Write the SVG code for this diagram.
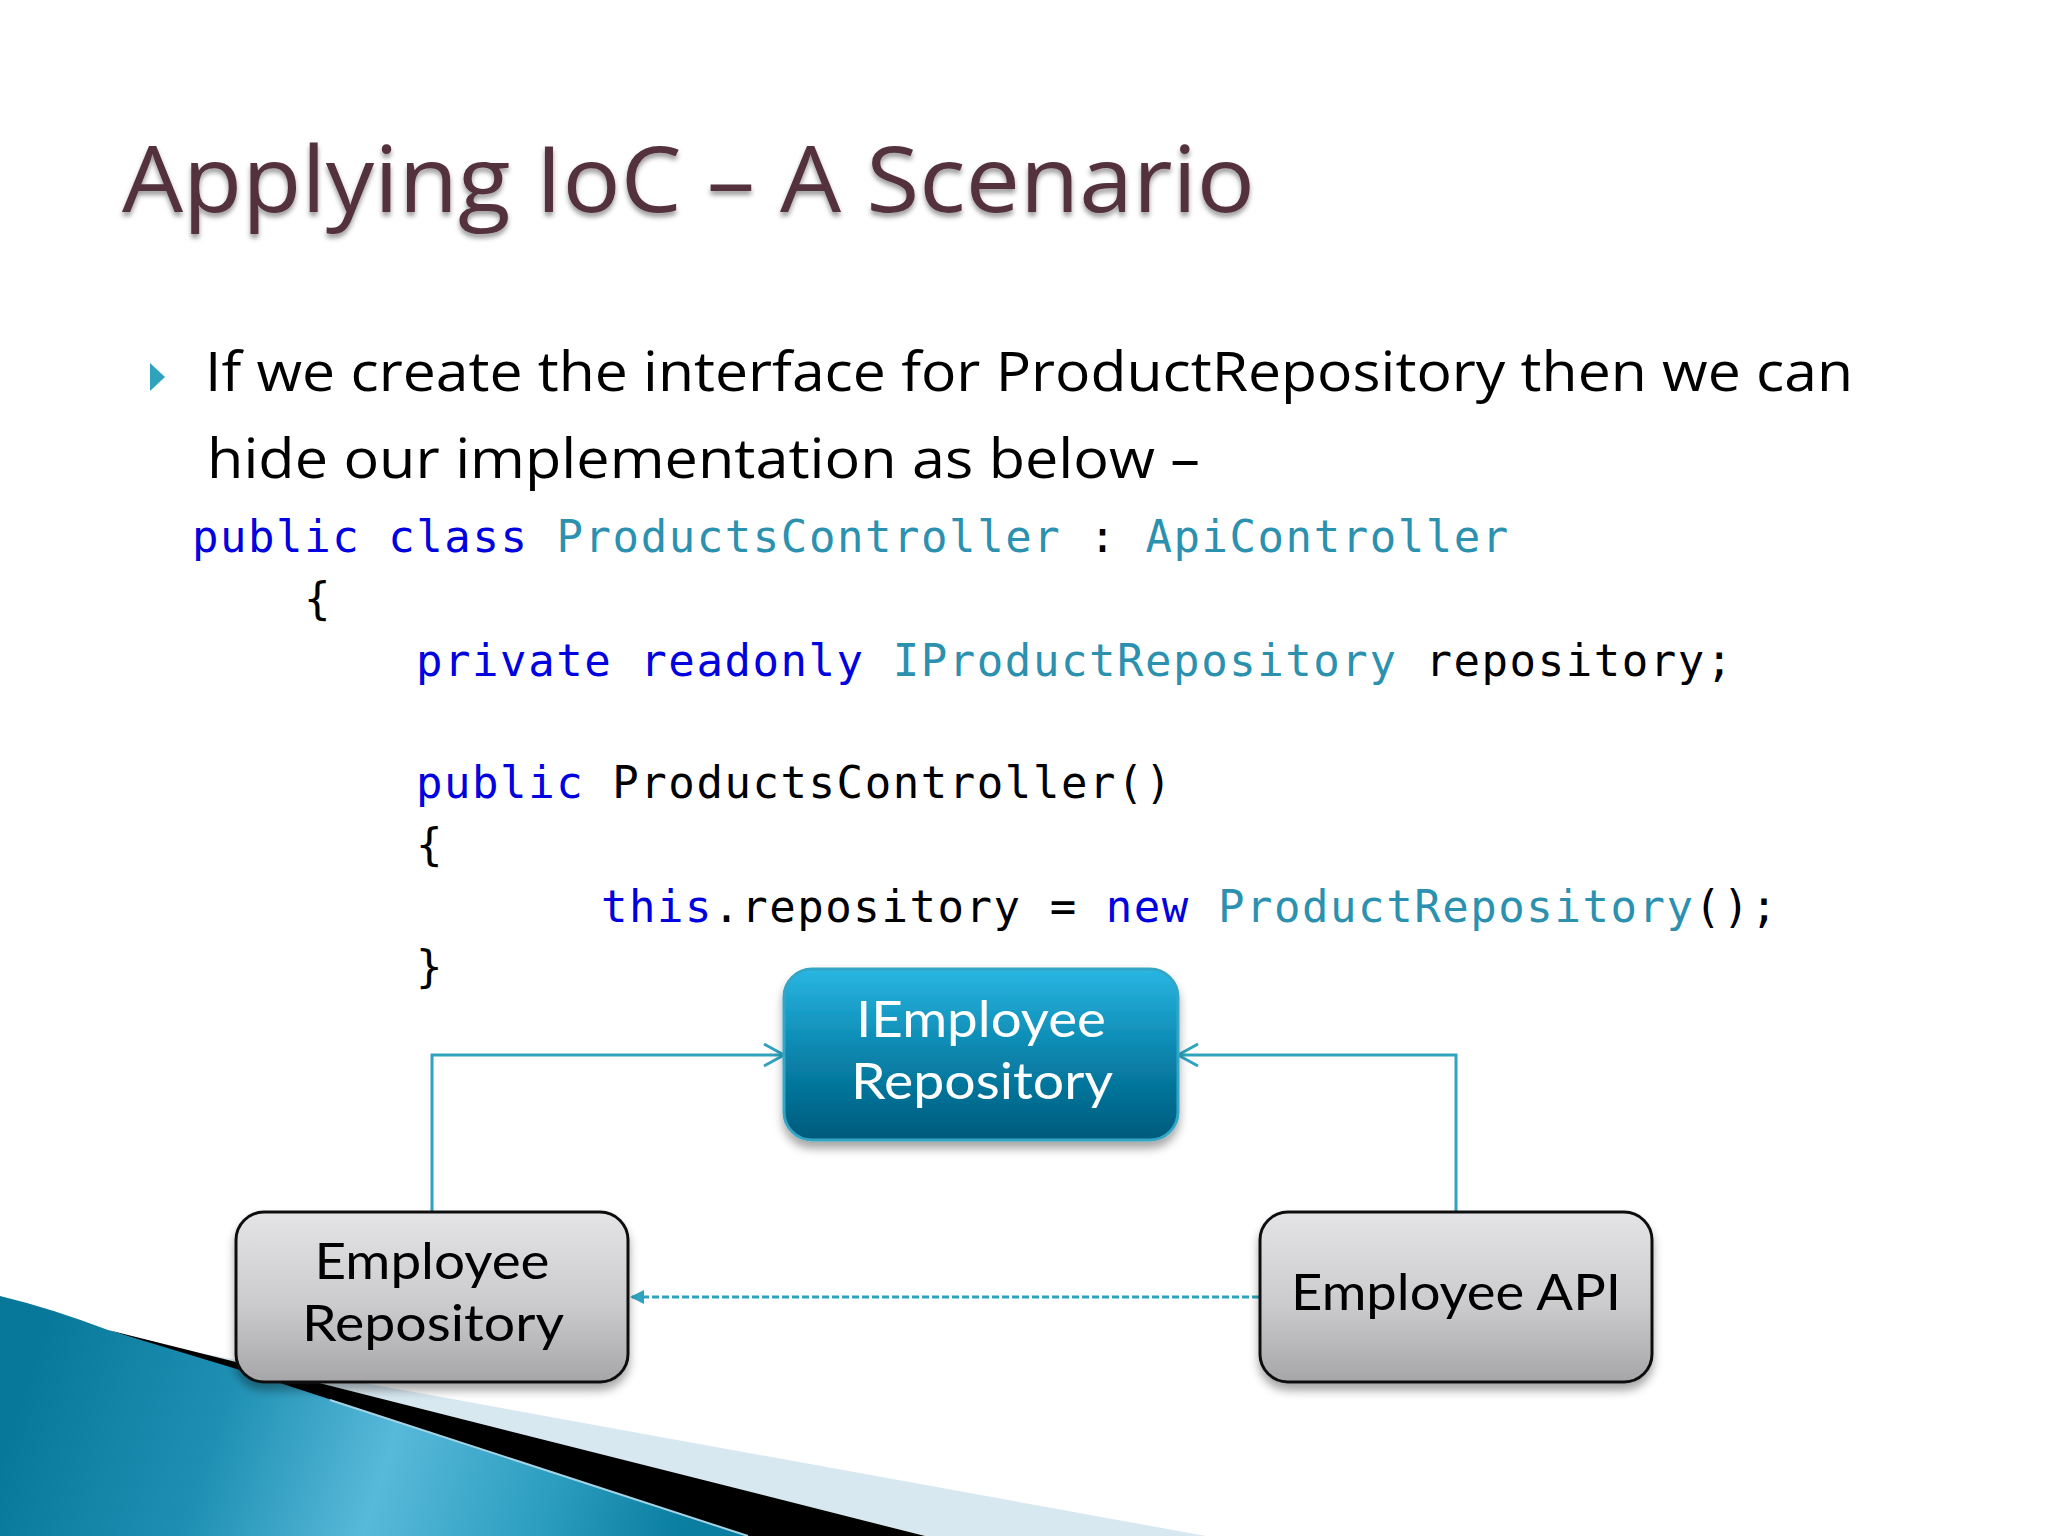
<svg xmlns="http://www.w3.org/2000/svg" width="2048" height="1536" viewBox="0 0 2048 1536">
<defs>
<style>
.sans{font-family:"Open Sans","Noto Sans","DejaVu Sans",sans-serif}
.title{font-size:92px;fill:#53303d}
.body{font-size:54px;fill:#000}
.label{font-family:Lato,"Open Sans",sans-serif;font-size:51px;text-anchor:middle}
.code{font-family:"DejaVu Sans Mono","Liberation Mono",monospace;font-size:44px;letter-spacing:1.55px;fill:#000}
.kw{fill:#0000e0}.ty{fill:#2b91af}
.gray{fill:url(#grayG);stroke:#111;stroke-width:3}
.blue{fill:url(#blueG);stroke:#35a5c6;stroke-width:3}
.conn{fill:none;stroke:#2fa3bd;stroke-width:3}
</style>
<linearGradient id="grayG" x1="0" y1="0" x2="0" y2="1"><stop offset="0" stop-color="#e4e3e5"/><stop offset="0.55" stop-color="#cbcacc"/><stop offset="1" stop-color="#a6a5a8"/></linearGradient>
<linearGradient id="blueG" x1="0" y1="0" x2="0" y2="1"><stop offset="0" stop-color="#2ab6e2"/><stop offset="0.5" stop-color="#0885ad"/><stop offset="1" stop-color="#025a7c"/></linearGradient>
<linearGradient id="swoosh" gradientUnits="userSpaceOnUse" x1="40" y1="1330" x2="680" y2="1536"><stop offset="0" stop-color="#08789a"/><stop offset="0.3" stop-color="#1f90b3"/><stop offset="0.55" stop-color="#58b9da"/><stop offset="0.8" stop-color="#2b9dbf"/><stop offset="1" stop-color="#0a7ea0"/></linearGradient>
<filter id="sh" x="-10%" y="-10%" width="120%" height="130%"><feDropShadow dx="0" dy="7" stdDeviation="5" flood-color="#000" flood-opacity="0.35"/></filter>
<filter id="tsh" x="-5%" y="-20%" width="110%" height="150%"><feDropShadow dx="0" dy="4" stdDeviation="2.5" flood-color="#000" flood-opacity="0.4"/></filter>
<marker id="open" markerWidth="24" markerHeight="26" refX="21" refY="13" orient="auto" markerUnits="userSpaceOnUse"><path d="M1 2 L21 13 L1 24" fill="none" stroke="#2fa3bd" stroke-width="3"/></marker>
<marker id="solid" markerWidth="14" markerHeight="16" refX="14" refY="8" orient="auto" markerUnits="userSpaceOnUse"><path d="M0 1 L14 8 L0 15 Z" fill="#2fa3bd"/></marker>
</defs>
<rect width="2048" height="1536" fill="#fff"/>
<g id="swoosh-art">
<polygon points="108,1330 166,1347 1206,1536 925,1536" fill="#d8e8f1"/>
<path d="M108 1330 L240 1363 L925 1536 L746 1536 Z" fill="#000"/>
<path d="M0 1296 Q50 1308 108 1330 L240 1370 L748 1536 L0 1536 Z" fill="url(#swoosh)"/>
<path d="M330 1400 L748 1536" fill="none" stroke="#a5d3e4" stroke-width="2"/>
</g>
<text class="sans title" x="122" y="212" textLength="1133" lengthAdjust="spacingAndGlyphs" filter="url(#tsh)">Applying IoC – A Scenario</text>
<polygon id="bullet" points="150,363 165,377 150,391" fill="#2fa3bd"/>
<text class="sans body" x="205" y="391" textLength="1648" lengthAdjust="spacingAndGlyphs">If we create the interface for ProductRepository then we can</text>
<text class="sans body" x="207" y="478" textLength="993" lengthAdjust="spacingAndGlyphs">hide our implementation as below –</text>
<g id="code">
<text class="code" x="192" y="552"><tspan class="kw">public class</tspan> <tspan class="ty">ProductsController</tspan> : <tspan class="ty">ApiController</tspan></text>
<text class="code" x="304" y="614">{</text>
<text class="code" x="416" y="676"><tspan class="kw">private readonly</tspan> <tspan class="ty">IProductRepository</tspan> repository;</text>
<text class="code" x="416" y="798"><tspan class="kw">public</tspan> ProductsController()</text>
<text class="code" x="416" y="860">{</text>
<text class="code" x="601" y="922"><tspan class="kw">this</tspan>.repository = <tspan class="kw">new</tspan> <tspan class="ty">ProductRepository</tspan>();</text>
<text class="code" x="416" y="982">}</text>
</g>
<g id="connectors">
<path class="conn" d="M432 1211 V1055 H784" marker-end="url(#open)"/>
<path class="conn" d="M1456 1211 V1055 H1178" marker-end="url(#open)"/>
<path class="conn" d="M1259 1297 H630" stroke-dasharray="7 3" marker-end="url(#solid)"/>
</g>
<g id="node-iemployee">
<rect class="blue" x="784" y="969" width="394" height="171" rx="28" filter="url(#sh)"/>
<text class="label" fill="#fff" x="981" y="1037" textLength="250" lengthAdjust="spacingAndGlyphs">IEmployee</text>
<text class="label" fill="#fff" x="982" y="1099" textLength="262" lengthAdjust="spacingAndGlyphs">Repository</text>
</g>
<g id="node-repository">
<rect class="gray" x="236" y="1212" width="392" height="170" rx="28" filter="url(#sh)"/>
<text class="label" fill="#000" x="432" y="1279" textLength="235" lengthAdjust="spacingAndGlyphs">Employee</text>
<text class="label" fill="#000" x="433" y="1341" textLength="262" lengthAdjust="spacingAndGlyphs">Repository</text>
</g>
<g id="node-api">
<rect class="gray" x="1260" y="1212" width="392" height="170" rx="28" filter="url(#sh)"/>
<text class="label" fill="#000" x="1456" y="1310" textLength="330" lengthAdjust="spacingAndGlyphs">Employee API</text>
</g>
</svg>
